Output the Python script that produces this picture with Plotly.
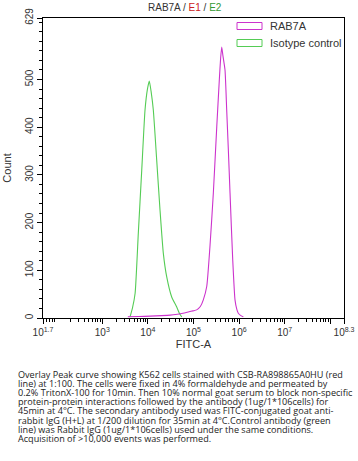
import plotly.graph_objects as go

# ---- data (log10 FITC-A position, count) ----
rab7a_log = [3.56, 3.80, 4.05, 4.30, 4.49, 4.65, 4.77, 4.90, 4.99, 5.07, 5.15, 5.215, 5.29, 5.36, 5.435,
             5.51, 5.566, 5.595, 5.619, 5.645, 5.691, 5.728, 5.765, 5.801, 5.86, 5.91, 5.95, 5.983, 6.04, 6.093]
rab7a_cnt = [2.7, 3, 4, 5, 6, 8, 10, 13, 15, 17, 24, 38, 66, 149, 262,
             401, 499, 545, 568, 550, 520, 436, 350, 262, 122, 38, 18, 10, 5, 2.7]

iso_log = [3.61, 3.66, 3.72, 3.79, 3.865, 3.937, 3.99, 4.031, 4.07, 4.119, 4.193, 4.266, 4.338, 4.413,
           4.522, 4.632, 4.69, 4.742]
iso_cnt = [2.7, 20, 52, 178, 310, 436, 480, 497, 475, 436, 331, 226, 136, 86,
           44, 23, 10, 2]

x_major_exp = [1.7, 3, 4, 5, 6, 7, 8, 8.3]
x_major_text = ["10<sup>1.7</sup>", "10<sup>3</sup>", "10<sup>4</sup>", "10<sup>5</sup>",
                "10<sup>6</sup>", "10<sup>7</sup>", "", "10<sup>8.3</sup>"]
y_major = [0, 100, 200, 300, 400, 500, 629]
y_major_text = ["0", "100", "200", "300", "400", "500", "629"]

caption_lines = [
    "Overlay Peak curve showing K562 cells stained with CSB-RA898865A0HU (red",
    "line) at 1:100. The cells were fixed in 4% formaldehyde and permeated by",
    "0.2% TritonX-100 for 10min. Then 10% normal goat serum to block non-specific",
    "protein-protein interactions followed by the antibody (1ug/1*106cells) for",
    "45min at 4\u00b0C. The secondary antibody used was FITC-conjugated goat anti-",
    "rabbit IgG (H+L) at 1/200 dilution for 35min at 4\u00b0C.Control antibody (green",
    "line) was Rabbit IgG (1ug/1*106cells) used under the same conditions.",
    "Acquisition of >10,000 events was performed.",
]

MAG = "#cc33cc"
GRN = "#55cc55"

W, H = 358, 461
L, R, T, B = 43, 344, 18, 318

fig = go.Figure()
fig.add_trace(go.Scatter(x=[10 ** v for v in iso_log], y=iso_cnt, mode="lines",
                         line=dict(color=GRN, width=1.1, shape="spline", smoothing=0.5),
                         showlegend=False, hoverinfo="skip"))
fig.add_trace(go.Scatter(x=[10 ** v for v in rab7a_log], y=rab7a_cnt, mode="lines",
                         line=dict(color=MAG, width=1.1, shape="spline", smoothing=0.5),
                         showlegend=False, hoverinfo="skip"))

minor_x = []
for e in range(1, 9):
    for k in range(2, 10):
        v = k * 10 ** e
        if 10 ** 1.7 < v < 10 ** 8.3:
            minor_x.append(v)

axis_font = dict(family="Liberation Sans, Arial, sans-serif", size=10, color="#333333")

fig.update_layout(
    width=W, height=H,
    margin=dict(l=L, r=W - R, t=T, b=H - B, autoexpand=False),
    paper_bgcolor="white", plot_bgcolor="white",
    font=axis_font,
    xaxis=dict(
        type="log", range=[1.7, 8.3], automargin=False,
        tickmode="array", tickvals=[10 ** v for v in x_major_exp], ticktext=x_major_text,
        tickangle=0,
        ticks="outside", ticklen=5, tickwidth=1, tickcolor="black",
        minor=dict(tickmode="array", tickvals=minor_x, ticks="outside", ticklen=3,
                   tickwidth=1, tickcolor="black", showgrid=False),
        showline=True, linecolor="black", linewidth=1, mirror=True,
        showgrid=False, zeroline=False,
        tickfont=dict(size=10, color="#333333"),
        title=dict(text="FITC-A", font=dict(size=11, color="#333333"), standoff=2),
    ),
    yaxis=dict(
        range=[0, 629], automargin=False,
        tickmode="array", tickvals=y_major, ticktext=y_major_text, tickangle=-90,
        ticks="outside", ticklen=5, tickwidth=1, tickcolor="black",
        minor=dict(dtick=20, tick0=0, ticks="outside", ticklen=3, tickwidth=1,
                   tickcolor="black", showgrid=False),
        showline=True, linecolor="black", linewidth=1, mirror=True,
        showgrid=False, zeroline=False,
        tickfont=dict(size=10, color="#333333"),
        title=dict(text="Count", font=dict(size=11, color="#333333"), standoff=10),
    ),
    showlegend=False,
)


def px_x(p):
    return (p - L) / (R - L)


def px_y(p):
    return (B - p) / (B - T)


# title
fig.add_annotation(
    x=px_x(185), y=px_y(8), xref="paper", yref="paper", showarrow=False,
    xanchor="center", yanchor="middle",
    text="RAB7A / <span style='color:#cc2222'>E1</span> / <span style='color:#339933'>E2</span>",
    font=dict(size=10, color="#333333"),
)

# legend (manual)
legend_items = [("RAB7A", MAG, 26), ("Isotype control", GRN, 43)]
for name, col, cy in legend_items:
    fig.add_shape(type="rect", xref="paper", yref="paper",
                  x0=px_x(237), x1=px_x(262), y0=px_y(cy + 3.5), y1=px_y(cy - 3.5),
                  line=dict(color=col, width=1), fillcolor="rgba(0,0,0,0)")
    fig.add_annotation(x=px_x(268), y=px_y(cy), xref="paper", yref="paper", showarrow=False,
                       xanchor="left", yanchor="middle", text=name,
                       font=dict(size=11, color="#333333"))

# caption: one block; small base font sets the 9.1 px line pitch, inner span sets glyph size
caption_html = "<br>".join(
    "<span style='font-size:9.1px'>" + ln.replace("<", "&lt;").replace(">", "&gt;") + "</span>"
    for ln in caption_lines
)
fig.add_annotation(x=px_x(16), y=px_y(366), xref="paper", yref="paper",
                   showarrow=False, xanchor="left", yanchor="top", align="left",
                   text=caption_html,
                   font=dict(family="Open Sans, Lato, sans-serif", size=7, color="#222222"))

fig.write_html("out.html",
               config={"displayModeBar": False, "staticPlot": True},
               post_script="document.body.style.margin='0';document.body.style.overflow='hidden';")
